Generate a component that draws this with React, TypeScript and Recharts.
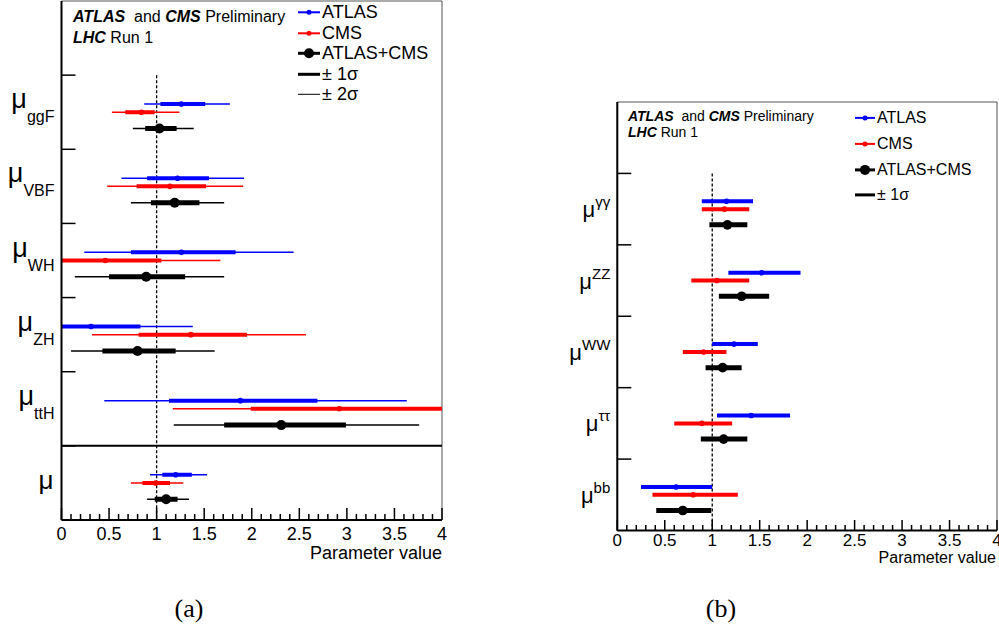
import React from 'react';
import {
  ScatterChart,
  Scatter,
  XAxis,
  YAxis,
  ErrorBar,
  ReferenceLine,
  ReferenceArea,
  Legend
} from 'recharts';

// production modes: [best fit, -1σ, +1σ, -2σ, +2σ] (absolute parameter values)
const productionModes = ['ggF', 'VBF', 'WH', 'ZH', 'ttH', ''];

const atlasProduction = [
  [1.26, 1.04, 1.51, 0.87, 1.77],
  [1.22, 0.9, 1.55, 0.63, 1.92],
  [1.26, 0.73, 1.83, 0.24, 2.44],
  [0.31, -0.1, 0.83, -0.5, 1.38],
  [1.88, 1.13, 2.69, 0.45, 3.63],
  [1.2, 1.06, 1.37, 0.93, 1.53]
];

const cmsProduction = [
  [0.84, 0.67, 0.98, 0.53, 1.24],
  [1.14, 0.79, 1.52, 0.48, 1.91],
  [0.46, -0.07, 1.05, -0.55, 1.67],
  [1.36, 0.81, 1.95, 0.32, 2.57],
  [2.92, 1.99, 4.1, 1.17, 5.2],
  [0.99, 0.85, 1.14, 0.73, 1.28]
];

const combinedProduction = [
  [1.03, 0.88, 1.21, 0.75, 1.39],
  [1.19, 0.94, 1.45, 0.73, 1.71],
  [0.89, 0.5, 1.3, 0.14, 1.71],
  [0.8, 0.43, 1.2, 0.1, 1.61],
  [2.31, 1.71, 2.99, 1.18, 3.76],
  [1.1, 0.98, 1.22, 0.9, 1.34]
];

// decay modes: [best fit, -1σ, +1σ]
const decayModes = ['γγ', 'ZZ', 'WW', 'ττ', 'bb'];

const atlasDecay = [
  [1.15, 0.89, 1.43],
  [1.52, 1.17, 1.93],
  [1.23, 1.0, 1.48],
  [1.41, 1.05, 1.82],
  [0.62, 0.25, 1.0]
];

const cmsDecay = [
  [1.13, 0.89, 1.39],
  [1.05, 0.78, 1.39],
  [0.91, 0.69, 1.15],
  [0.89, 0.6, 1.21],
  [0.8, 0.37, 1.27]
];

const combinedDecay = [
  [1.16, 0.97, 1.37],
  [1.31, 1.07, 1.6],
  [1.11, 0.93, 1.31],
  [1.12, 0.88, 1.37],
  [0.69, 0.41, 0.99]
];

const xTicks = Array.from({ length: 41 }, (_, i) => i / 10);

const FONT = '"Liberation Sans", Arial, Helvetica, sans-serif';
const BLUE = '#0000ff';
const RED = '#ff0000';
const SERIES_ORDER = ['ATLAS', 'CMS', 'ATLAS+CMS'];

// where each experiment sits inside its row slot (0 = top of slot, 1 = bottom)
const SLOT_POS = [0.39, 0.5, 0.72];

const toRows = (values: number[][], slotPos: number) =>
  values.map((v, i) => ({
    x: v[0],
    y: 1 + i + slotPos,
    e1: [v[0] - v[1], v[2] - v[0]],
    e2: v.length > 3 ? [v[0] - v[3], v[4] - v[0]] : [0, 0]
  }));

type SeriesSpec = {
  name: string;
  color: string;
  values: number[][];
  dot: number;
  thick: number;
  thin: number;
};

type PanelProps = {
  id: string;
  width: number;
  height: number;
  margin: { top: number; right: number; bottom: number; left: number };
  xAxisHeight: number;
  slots: number;
  labels: string[];
  labelKind: 'sub' | 'sup';
  series: SeriesSpec[];
  twoSigma: boolean;
  separator?: number;
  tickFont: number;
  tickLabelDy: number;
  majorLen: number;
  minorLen: number;
  legendPos: { left: number; top: number };
  legendFont: number;
  legendRow: number;
  legendMarker: number;
};

const LegendBox = ({ payload, font, row, marker, twoSigma }: any) => {
  const sorted = [...(payload || [])].sort(
    (a: any, b: any) => SERIES_ORDER.indexOf(a.value) - SERIES_ORDER.indexOf(b.value)
  );
  const entries = [
    ...sorted.map((p: any) => ({
      label: p.value,
      color: p.value === 'ATLAS' ? BLUE : p.value === 'CMS' ? RED : '#000',
      width: p.value === 'ATLAS+CMS' ? 3 : 2,
      r: p.value === 'ATLAS+CMS' ? 5 : 2.5
    })),
    { label: '± 1σ', color: '#000', width: 3, r: 0 },
    ...(twoSigma ? [{ label: '± 2σ', color: '#000', width: 1, r: 0 }] : [])
  ];
  return (
    <div style={{ fontFamily: FONT, fontSize: font, lineHeight: `${row}px`, color: '#000' }}>
      {entries.map((e) => (
        <div key={e.label} style={{ height: row, whiteSpace: 'nowrap' }}>
          <svg width={marker} height={row} style={{ verticalAlign: 'top' }}>
            <line x1={0} x2={marker} y1={row / 2} y2={row / 2} stroke={e.color} strokeWidth={e.width} />
            {e.r > 0 && <circle cx={marker / 2} cy={row / 2} r={e.r} fill={e.color} />}
          </svg>
          <span style={{ marginLeft: 2 }}>{e.label}</span>
        </div>
      ))}
    </div>
  );
};

const Panel = (p: PanelProps) => {
  const yTicks: number[] = [];
  for (let i = 1; i < p.slots; i++) yTicks.push(i);
  p.labels.forEach((_, i) => yTicks.push(i + 1.5));

  const plotLeft = p.margin.left + 1;
  const plotTop = p.margin.top;
  const plotW = p.width - plotLeft - p.margin.right;
  const plotH = p.height - p.margin.top - p.margin.bottom - p.xAxisHeight;
  const clipRef = `url(#clip-${p.id})`;

  const renderYTick = (props: any) => {
    const { x, y, payload } = props;
    const v = payload.value;
    if (Number.isInteger(v)) {
      return <line x1={x} x2={x + 14} y1={y} y2={y} stroke="#000" strokeWidth={1.5} />;
    }
    const label = p.labels[Math.floor(v) - 1];
    if (p.labelKind === 'sub') {
      if (!label) {
        return (
          <text x={x - 8} y={y + 6} textAnchor="end" fontFamily={FONT} fontSize={26} fill="#000">
            μ
          </text>
        );
      }
      return (
        <text x={x - 7} y={y - 4} textAnchor="end" fontFamily={FONT} fill="#000">
          <tspan fontSize={27}>μ</tspan>
          <tspan fontSize={16} dy={14}>{label}</tspan>
        </text>
      );
    }
    return (
      <text x={x - 7} y={y + 8} textAnchor="end" fontFamily={FONT} fill="#000">
        <tspan fontSize={22}>μ</tspan>
        <tspan fontSize={15} dy={-10}>{label}</tspan>
      </text>
    );
  };

  const renderXTick = (props: any) => {
    const { x, y, payload } = props;
    const v = payload.value;
    const major = Math.abs(v * 2 - Math.round(v * 2)) < 1e-6;
    return (
      <g>
        <line x1={x} x2={x} y1={y} y2={y - (major ? p.majorLen : p.minorLen)} stroke="#000" strokeWidth={1.5} />
        {major && (
          <text x={x} y={y + p.tickLabelDy} textAnchor="middle" fontFamily={FONT} fontSize={p.tickFont} fill="#000">
            {v}
          </text>
        )}
      </g>
    );
  };

  return (
    <>
      <svg width={0} height={0} style={{ position: 'absolute' }}>
        <defs>
          <clipPath id={`clip-${p.id}`} clipPathUnits="userSpaceOnUse">
            <rect x={plotLeft} y={plotTop - 2} width={plotW} height={plotH + 4} />
          </clipPath>
        </defs>
      </svg>
      <ScatterChart width={p.width} height={p.height} margin={p.margin}>
        <XAxis
          type="number"
          dataKey="x"
          domain={[0, 4]}
          ticks={xTicks}
          interval={0}
          allowDataOverflow
          tickSize={0}
          tickMargin={0}
          height={p.xAxisHeight}
          axisLine={{ stroke: '#000', strokeWidth: 2 }}
          tickLine={false}
          tick={renderXTick}
        />
        <YAxis
          type="number"
          dataKey="y"
          domain={[0, p.slots]}
          reversed
          ticks={yTicks}
          interval={0}
          allowDataOverflow
          tickSize={0}
          tickMargin={0}
          width={1}
          axisLine={{ stroke: '#000', strokeWidth: 2 }}
          tickLine={false}
          tick={renderYTick}
        />
        <ReferenceArea x1={0} x2={4} y1={0} y2={p.slots} fill="none" stroke="#555" strokeWidth={1} />
        {p.separator !== undefined && <ReferenceLine y={p.separator} stroke="#000" strokeWidth={2} />}
        <ReferenceLine
          segment={[
            { x: 1, y: 1 },
            { x: 1, y: p.slots }
          ]}
          stroke="#000"
          strokeWidth={1.3}
          strokeDasharray="3 2"
        />
        {p.series.map((s, i) => (
          <Scatter
            key={s.name}
            name={s.name}
            data={toRows(s.values, SLOT_POS[i])}
            fill={s.color}
            isAnimationActive={false}
            shape={(props: any) => <circle cx={props.cx} cy={props.cy} r={s.dot} fill={s.color} />}
          >
            {p.twoSigma && (
              <ErrorBar
                dataKey="e2"
                direction="x"
                width={0}
                stroke={s.color}
                strokeWidth={s.thin}
                clipPath={clipRef}
                isAnimationActive={false}
              />
            )}
            <ErrorBar
              dataKey="e1"
              direction="x"
              width={0}
              stroke={s.color}
              strokeWidth={s.thick}
              clipPath={clipRef}
              isAnimationActive={false}
            />
          </Scatter>
        ))}
        <Legend
          layout="vertical"
          align="center"
          verticalAlign="middle"
          wrapperStyle={{ left: p.legendPos.left, top: p.legendPos.top, width: 'auto' }}
          content={(props: any) => (
            <LegendBox
              payload={props.payload}
              font={p.legendFont}
              row={p.legendRow}
              marker={p.legendMarker}
              twoSigma={p.twoSigma}
            />
          )}
        />
      </ScatterChart>
    </>
  );
};

export default function App() {
  return (
    <div
      style={{
        position: 'absolute',
        left: 0,
        top: 0,
        width: 999,
        height: 634,
        overflow: 'hidden',
        background: '#fff',
        fontFamily: FONT
      }}
    >
      <div style={{ position: 'absolute', left: 0, top: 0 }}>
        <Panel
          id="a"
          width={460}
          height={580}
          margin={{ top: 1, right: 18, bottom: 0, left: 60.5 }}
          xAxisHeight={60}
          slots={7}
          labels={productionModes}
          labelKind="sub"
          series={[
            { name: 'ATLAS', color: BLUE, values: atlasProduction, dot: 2.8, thick: 4, thin: 1.5 },
            { name: 'CMS', color: RED, values: cmsProduction, dot: 2.8, thick: 4, thin: 1.5 },
            { name: 'ATLAS+CMS', color: '#000', values: combinedProduction, dot: 5, thick: 5, thin: 1.5 }
          ]}
          twoSigma
          separator={6}
          tickFont={18}
          tickLabelDy={20}
          majorLen={12}
          minorLen={6}
          legendPos={{ left: 298, top: 2 }}
          legendFont={18}
          legendRow={20.6}
          legendMarker={22}
        />
      </div>
      <div style={{ position: 'absolute', left: 560, top: 90 }}>
        <Panel
          id="b"
          width={439}
          height={490}
          margin={{ top: 12, right: 2, bottom: 0, left: 56.3 }}
          xAxisHeight={49.5}
          slots={6}
          labels={decayModes}
          labelKind="sup"
          series={[
            { name: 'ATLAS', color: BLUE, values: atlasDecay, dot: 2.8, thick: 4, thin: 1.5 },
            { name: 'CMS', color: RED, values: cmsDecay, dot: 2.8, thick: 4, thin: 1.5 },
            { name: 'ATLAS+CMS', color: '#000', values: combinedDecay, dot: 4.8, thick: 5, thin: 1.5 }
          ]}
          twoSigma={false}
          tickFont={17}
          tickLabelDy={15.5}
          majorLen={10.5}
          minorLen={5.5}
          legendPos={{ left: 295, top: 15 }}
          legendFont={16}
          legendRow={25.8}
          legendMarker={20}
        />
      </div>
      <svg
        width={999}
        height={634}
        style={{ position: 'absolute', left: 0, top: 0, pointerEvents: 'none' }}
        fontFamily={FONT}
      >
        <text x={73} y={21.5} fontSize={16} fill="#000" style={{ whiteSpace: 'pre' }}>
          <tspan fontWeight="bold" fontStyle="italic">ATLAS</tspan>
          <tspan>{'  and '}</tspan>
          <tspan fontWeight="bold" fontStyle="italic">CMS</tspan>
          <tspan>{' Preliminary'}</tspan>
        </text>
        <text x={73} y={43.3} fontSize={16} fill="#000" style={{ whiteSpace: 'pre' }}>
          <tspan fontWeight="bold" fontStyle="italic">LHC</tspan>
          <tspan>{' Run 1'}</tspan>
        </text>
        <text x={442} y={559.3} fontSize={18} textAnchor="end" fill="#000">
          Parameter value
        </text>

        <text x={628} y={120.7} fontSize={14} fill="#000" style={{ whiteSpace: 'pre' }}>
          <tspan fontWeight="bold" fontStyle="italic">ATLAS</tspan>
          <tspan>{'  and '}</tspan>
          <tspan fontWeight="bold" fontStyle="italic">CMS</tspan>
          <tspan>{' Preliminary'}</tspan>
        </text>
        <text x={628} y={137.3} fontSize={14} fill="#000" style={{ whiteSpace: 'pre' }}>
          <tspan fontWeight="bold" fontStyle="italic">LHC</tspan>
          <tspan>{' Run 1'}</tspan>
        </text>
        <text x={996} y={563.3} fontSize={16} textAnchor="end" fill="#000">
          Parameter value
        </text>

        <text x={189} y={617} fontSize={26} textAnchor="middle" fontFamily='"Liberation Serif", "DejaVu Serif", serif' fill="#000">
          (a)
        </text>
        <text x={721} y={617} fontSize={26} textAnchor="middle" fontFamily='"Liberation Serif", "DejaVu Serif", serif' fill="#000">
          (b)
        </text>
      </svg>
    </div>
  );
}
